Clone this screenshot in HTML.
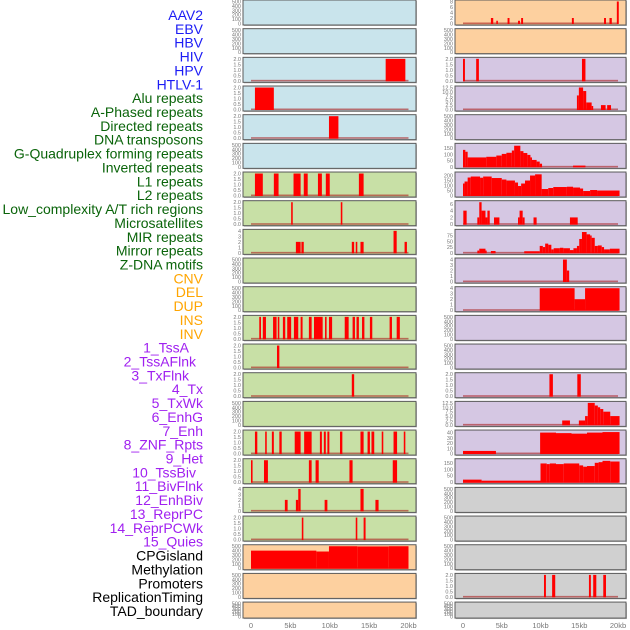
<!DOCTYPE html>
<html><head><meta charset="utf-8"><style>
html,body{margin:0;padding:0;background:#fff;}
svg{display:block;}
text{font-family:"Liberation Sans",sans-serif;}
</style></head><body>
<svg id="chart" width="630" height="630" viewBox="0 0 630 630" xmlns="http://www.w3.org/2000/svg">
<g id="labels"></g>
<g id="panels"></g>
<g id="xaxes"></g>
</svg>
<script>
// ---------- data ----------
const trackLabels = ["AAV2","EBV","HBV","HIV","HPV","HTLV-1","Alu repeats","A-Phased repeats","Directed repeats","DNA transposons","G-Quadruplex forming repeats","Inverted repeats","L1 repeats","L2 repeats","Low_complexity A/T rich regions","Microsatellites","MIR repeats","Mirror repeats","Z-DNA motifs","CNV","DEL","DUP","INS","INV","1_TssA","2_TssAFlnk","3_TxFlnk","4_Tx","5_TxWk","6_EnhG","7_Enh","8_ZNF_Rpts","9_Het","10_TssBiv","11_BivFlnk","12_EnhBiv","13_ReprPC","14_ReprPCWk","15_Quies","CPGisland","Methylation","Promoters","ReplicationTiming","TAD_boundary"];
const labelGroups = [6,13,5,15,5];
const groupColors = ["#1c1cf5","#0a640a","#ffa500","#a020f0","#000000"];
const labelShift = {"1_TssA":-14,"2_TssAFlnk":-7,"3_TxFlnk":-14,"10_TssBiv":-7};

const xTickVals = [0,5,10,15,20];
const xTickLabels = ["0","5kb","10kb","15kb","20kb"];

const ticksEmpty = [0,100,200,300,400,500];
const ticks2 = [0,0.5,1,1.5,2];
const ticks4 = [0,1,2,3,4];

// left column backgrounds / ticks / bars [startKb, endKb, value]
const leftBg = ["#c9e4ec","#c9e4ec","#c9e4ec","#c9e4ec","#c9e4ec","#c9e4ec","#c8e0a6","#c8e0a6","#c8e0a6","#c8e0a6","#c8e0a6","#c8e0a6","#c8e0a6","#c8e0a6","#c8e0a6","#c8e0a6","#c8e0a6","#c8e0a6","#c8e0a6","#fdd09f","#fdd09f","#fdd09f"];
const leftTicks = [ticksEmpty,ticksEmpty,ticks2,ticks2,ticks2,ticksEmpty,ticks2,ticks2,ticks4,ticksEmpty,ticksEmpty,ticks2,ticks2,ticks2,ticksEmpty,ticks2,ticks2,ticks4,ticks2,ticksEmpty,ticksEmpty,ticksEmpty];
const leftBars = [
 [],[],
 [[17.1,19.6,2]],
 [[0.5,2.9,2]],
 [[9.9,11.1,2]],
 [],
 [[0.5,1.5,2],[2.9,3.5,2],[5.4,6.3,2],[6.7,7.2,2],[8.5,9.0,2],[9.5,10.0,2],[13.7,14.3,2]],
 [[5.1,5.3,2],[11.4,11.6,2]],
 [[5.7,6.3,2],[6.4,6.7,2],[12.8,13.1,2],[13.3,13.5,2],[13.9,14.3,2],[18.1,18.5,4],[19.5,19.8,2]],
 [],[],
 [[1.05,1.27,2],[1.5,1.9,2],[2.8,3.25,2],[3.4,3.6,2],[4.05,4.35,2],[4.6,5.1,2],[5.45,6.0,2],[6.3,6.55,2],[7.35,7.7,2],[8.0,9.1,2],[9.4,9.6,2],[9.9,10.3,2],[11.9,12.4,2],[12.9,13.2,2],[13.4,13.7,2],[14.1,14.4,2],[15.1,15.4,2],[17.6,17.9,2],[18.5,18.9,2]],
 [[3.3,3.6,2]],
 [[12.8,13.1,2]],
 [],
 [[0.5,0.8,2],[1.8,2.0,2],[2.65,2.9,2],[3.6,3.9,2],[5.55,6.3,2],[6.75,7.7,2],[8.75,9.0,2],[9.25,9.5,2],[9.7,9.95,2],[11.3,11.6,2],[13.9,14.3,2],[14.8,15.1,2],[15.3,15.65,2],[16.6,16.8,2],[18.1,18.55,2],[19.4,19.6,2]],
 [[0,0.2,2],[1.65,2.15,2],[7.35,7.7,2],[8.2,8.6,2],[12.5,12.9,2],[18.0,18.55,2]],
 [[4.3,4.65,2],[5.7,6.0,2],[6.0,6.3,4],[9.35,9.7,2],[13.9,14.3,4],[15.8,16.2,2]],
 [[6.45,6.65,2],[13.3,13.5,2],[14.3,14.55,2]],
 [[0,8.3,400],[8.3,9.9,380],[9.9,13.5,500],[13.5,17.5,495],[17.5,20,500]],
 [],[]
];

// right column
const rightBg = ["#fdd09f","#fdd09f","#d5c7e3","#d5c7e3","#d5c7e3","#d5c7e3","#d5c7e3","#d5c7e3","#d5c7e3","#d5c7e3","#d5c7e3","#d5c7e3","#d5c7e3","#d5c7e3","#d5c7e3","#d5c7e3","#d5c7e3","#d0d0d0","#d0d0d0","#d0d0d0","#d0d0d0","#d0d0d0"];
const rightTicks = [[0,2,4,6,8],ticksEmpty,ticks2,[0,2.5,5,7.5,10,12.5],ticksEmpty,[0,50,100,150],[0,50,100,150,200],[0,2,4,6],[0,25,50,75],ticks4,ticks4,ticksEmpty,ticksEmpty,ticks2,[0,2.5,5,7.5,10,12.5],[0,10,20,30,40],[0,50,100,150],ticksEmpty,ticksEmpty,ticksEmpty,ticks2,ticksEmpty];
const rightMax = [8,500,2,12.5,500,175,220,6.5,95,4,4,500,500,2,12.5,42,170,500,500,500,2,500];
const leftMax = [500,500,2,2,2,500,2,2,4,500,500,2,2,2,500,2,2,4,2,500,500,500];
const rightBars = [
 [[3.6,3.9,2],[4.3,4.5,1],[5.75,6.0,2],[7.1,7.35,1],[7.5,7.75,2],[14.05,14.3,2],[18.2,18.45,2],[18.9,19.2,2],[19.85,20.1,8]],
 [],
 [[0,0.25,2],[1.7,2.05,2],[15.35,15.8,2]],
 [[14.7,14.95,8],[14.95,15.5,12.5],[15.5,15.9,10.5],[15.9,16.6,4],[16.6,16.8,2],[17.8,18.4,2.5],[18.6,19.1,2.5]],
 [],
 [[0,0.3,135],[0.3,0.6,120],[0.6,3.0,75],[3.0,4.3,80],[4.3,5.0,90],[5.0,5.6,103],[5.6,6.3,112],[6.3,6.6,130],[6.6,7.4,168],[7.4,7.8,125],[7.8,8.3,110],[8.3,8.7,95],[8.7,8.9,75],[8.9,9.5,55],[9.5,9.9,42],[9.9,10.2,25],[14.2,15.8,10]],
 [[0,0.2,120],[0.2,0.6,140],[0.6,1.0,180],[1.0,2.2,190],[2.2,2.6,178],[2.6,3.7,190],[3.7,5.0,175],[5.0,5.6,160],[5.6,6.7,150],[6.7,7.1,130],[7.1,7.5,95],[7.5,8.0,120],[8.0,8.65,150],[8.65,9.3,200],[9.3,10.15,212],[10.15,11.0,65],[11.0,11.65,75],[11.65,13.4,85],[13.4,14.2,88],[14.2,15.1,80],[15.1,15.5,70],[15.5,16.4,45],[16.4,17.3,55],[17.3,20.2,50]],
 [[0.04,0.47,4],[1.85,2.1,2],[2.1,2.4,6.5],[2.4,2.9,4],[2.9,3.15,2],[3.15,3.45,4],[4.0,4.7,2],[7.1,7.3,2],[7.3,7.7,4],[7.7,7.95,2],[9.1,9.5,2],[13.8,14.8,2]],
 [[1.85,2.1,10],[2.1,2.9,18],[2.9,3.05,10],[3.6,4.2,8],[7.9,9.9,7],[9.9,10.3,30],[10.3,10.6,25],[10.6,11.0,40],[11.0,11.4,35],[11.4,11.7,15],[11.7,12.5,20],[12.5,12.95,22],[12.95,13.8,20],[13.8,14.25,12],[14.25,14.7,20],[14.7,15.0,30],[15.0,15.35,60],[15.35,15.95,90],[15.95,16.4,80],[16.4,16.6,75],[16.6,17.0,65],[17.0,17.4,30],[17.4,17.9,32],[17.9,18.2,25],[18.2,18.95,15],[18.95,20.2,18]],
 [[12.9,13.4,4],[13.4,13.7,2]],
 [[9.9,14.4,4],[14.4,15.75,2],[15.75,20.2,4]],
 [],[],
 [[11.15,11.6,2],[14.75,15.2,2]],
 [[12.8,13.8,2.5],[14.95,15.75,2.5],[15.75,16.1,5],[16.1,17.0,12.5],[17.0,17.4,11],[17.4,17.7,10],[17.7,18.1,9],[18.1,19.0,7.5],[19.0,20.2,5]],
 [[0,4.25,5],[9.95,12,40],[12,14,39],[14,16,38],[16,18,40],[18,20.2,41]],
 [[0,2.4,20],[2.4,10,12],[10,10.8,145],[10.8,11.2,140],[11.2,12,145],[12,13,140],[13,15,145],[15,15.5,130],[15.5,16,120],[16,17,125],[17,17.5,150],[17.5,18,155],[18,19,165],[19,20.2,160]],
 [],[],[],
 [[10.45,10.7,2],[11.5,11.9,2],[16.25,16.5,2],[16.8,17.2,2],[18.1,18.45,2]],
 []
];

// ---------- drawing ----------
const NS = "http://www.w3.org/2000/svg";
function mk(tag, attrs, parent){ const e=document.createElementNS(NS,tag); for(const k in attrs) e.setAttribute(k,attrs[k]); parent.appendChild(e); return e; }
const rowTop = i => i*28.67;
const rowH = i => i===21 ? 16 : 25;
const cols = [
 {name:"left", px0:243, px1:416, x0:251, x1:408.5, bg:leftBg, ticks:leftTicks, bars:leftBars, max:leftMax},
 {name:"right", px0:455, px1:626, x0:463, x1:618, bg:rightBg, ticks:rightTicks, bars:rightBars, max:rightMax}
];

// labels
const lg = document.getElementById("labels");
let idx=0;
labelGroups.forEach((n,g)=>{
  for(let k=0;k<n;k++){
    const name = trackLabels[idx];
    const t = mk("text",{x:203+(labelShift[name]||0), y:20+idx*13.86, "text-anchor":"end", "font-size":"14", fill:groupColors[g]}, lg);
    t.textContent = name;
    
    
    idx++;
  }
});

const pg = document.getElementById("panels");
cols.forEach(c=>{
  const xs = kb => c.x0 + kb/20*(c.x1-c.x0);
  for(let i=0;i<22;i++){
    const top=rowTop(i), h=rowH(i), mx=c.max[i];
    const ys = v => top + h - 1.5 - v/mx*(h-3);
    const g = mk("g",{},pg);
    
    
    mk("rect",{x:c.px0+1,y:top+1,width:c.px1-c.px0,height:h,fill:"#bbb"},g);
    const bgr = mk("rect",{x:c.px0,y:top,width:c.px1-c.px0,height:h,fill:c.bg[i],stroke:"#5a5a5a","stroke-width":1},g);
    
    
    const bars=c.bars[i];
    if(bars.length){
      const bl = mk("rect",{x:xs(0),y:ys(0)-1,width:xs(20)-xs(0),height:1.6,fill:"rgba(170,30,30,0.6)"},g);
      
      
    }
    bars.forEach(b=>{
      const y=ys(b[2]);
      const r = mk("rect",{x:xs(b[0]),y:y,width:Math.max(1.2,xs(b[1])-xs(b[0])),height:ys(0)-y+0.5,fill:"#ff0000"},g);
      
      
    });
    c.ticks[i].forEach(tv=>{
      const lab = (c.ticks[i]===ticks2||c.ticks[i].some(v=>v%1))? tv.toFixed(1) : String(tv);
      const t = mk("text",{x:c.px0-2,y:ys(tv)+2,"text-anchor":"end","font-size":"5.5",fill:"#777"},g);
      t.textContent = lab;
      
      
    });
  }
  const xg = document.getElementById("xaxes");
  xTickVals.forEach((v,j)=>{
    const t = mk("text",{x:xs(v),y:628,"text-anchor":"middle","font-size":"7.5",fill:"#777"},xg);
    t.textContent = xTickLabels[j];
    
    
  });
});
</script>
</body></html>
